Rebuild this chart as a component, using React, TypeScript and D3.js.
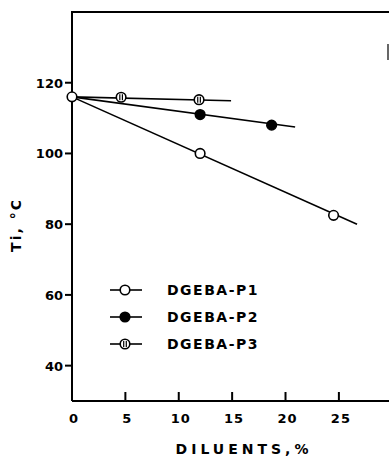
import React, { useEffect, useRef } from 'react';
import * as d3 from 'd3';

// Measured points (diluent %, Ti in °C)
const p1Points = [
  { x: 0, y: 116 },
  { x: 12, y: 100 },
  { x: 24.5, y: 82.5 },
];
const p2Points = [
  { x: 12, y: 111 },
  { x: 18.7, y: 108 },
];
const p3Points = [
  { x: 4.6, y: 115.9 },
  { x: 11.9, y: 115.2 },
];

// Fitted lines: start and end of each line
const p1Line = [
  { x: 0, y: 116 },
  { x: 26.7, y: 80 },
];
const p2Line = [
  { x: 0, y: 116 },
  { x: 20.9, y: 107.5 },
];
const p3Line = [
  { x: 0, y: 116 },
  { x: 14.9, y: 114.9 },
];

const xTicks = [0, 5, 10, 15, 20, 25];
const yTicks = [40, 60, 80, 100, 120];
const legendLabels = ['DGEBA-P1', 'DGEBA-P2', 'DGEBA-P3'];
const markerKinds = ['open', 'filled', 'split'];

const FONT = '"DejaVu Sans", Verdana, sans-serif';

const App: React.FC = () => {
  const svgRef = useRef<SVGSVGElement>(null);

  useEffect(() => {
    if (!svgRef.current) return;
    const svg = d3.select(svgRef.current);
    svg.selectAll('*').remove();

    const x = d3.scaleLinear().domain([0, 29.6]).range([72, 388]);
    const y = d3.scaleLinear().domain([30, 140]).range([401, 12]);

    // frame
    svg.append('path')
      .attr('d', `M${x(0)},${y(30)}V${y(140)}H389`)
      .attr('fill', 'none')
      .attr('stroke', '#000')
      .attr('stroke-width', 2);
    svg.append('line')
      .attr('x1', 388).attr('x2', 388)
      .attr('y1', 44).attr('y2', 60)
      .attr('stroke', '#000').attr('stroke-width', 1.2);
    svg.append('line')
      .attr('x1', x(0)).attr('x2', 389)
      .attr('y1', y(30)).attr('y2', y(30))
      .attr('stroke', '#000').attr('stroke-width', 2);

    // x ticks (inward)
    svg.selectAll('.xt')
      .data(xTicks.filter(d => d > 0))
      .enter()
      .append('line')
      .attr('x1', d => x(d)).attr('x2', d => x(d))
      .attr('y1', y(30)).attr('y2', y(30) - 9)
      .attr('stroke', '#000').attr('stroke-width', 2);
    svg.selectAll('.xl')
      .data(xTicks)
      .enter()
      .append('text')
      .attr('x', d => x(d) + 2)
      .attr('y', y(30) + 22)
      .attr('text-anchor', 'middle')
      .style('font-family', FONT)
      .style('font-weight', 'bold')
      .style('font-size', '13px')
      .style('letter-spacing', '1px')
      .text(d => d);

    // y ticks (outward)
    svg.selectAll('.yt')
      .data(yTicks)
      .enter()
      .append('line')
      .attr('x1', x(0) - 7).attr('x2', x(0))
      .attr('y1', d => y(d)).attr('y2', d => y(d))
      .attr('stroke', '#000').attr('stroke-width', 2);
    svg.selectAll('.yl')
      .data(yTicks)
      .enter()
      .append('text')
      .attr('x', x(0) - 9)
      .attr('y', d => y(d) + 5)
      .attr('text-anchor', 'end')
      .style('font-family', FONT)
      .style('font-weight', 'bold')
      .style('font-size', '13px')
      .text(d => d);

    // axis titles
    svg.append('text')
      .attr('x', 244)
      .attr('y', 454)
      .attr('text-anchor', 'middle')
      .style('font-family', FONT)
      .style('font-weight', 'bold')
      .style('font-size', '14px')
      .style('letter-spacing', '4px')
      .text('DILUENTS,%');
    svg.append('text')
      .attr('transform', 'translate(21,225) rotate(-90)')
      .attr('text-anchor', 'middle')
      .style('font-family', FONT)
      .style('font-weight', 'bold')
      .style('font-size', '14px')
      .style('letter-spacing', '2px')
      .text('Ti, °C');

    const line = d3.line<{ x: number; y: number }>()
      .x(d => x(d.x))
      .y(d => y(d.y));

    [p1Line, p2Line, p3Line].forEach(l => {
      svg.append('path')
        .datum(l)
        .attr('d', line)
        .attr('fill', 'none')
        .attr('stroke', '#000')
        .attr('stroke-width', 1.6);
    });

    const drawMarker = (cx: number, cy: number, kind: string) => {
      const g = svg.append('g');
      g.append('circle')
        .attr('cx', cx).attr('cy', cy).attr('r', 4.8)
        .attr('fill', kind === 'filled' ? '#000' : '#fff')
        .attr('stroke', '#000')
        .attr('stroke-width', 1.6);
      if (kind === 'split') {
        [-1.3, 1.3].forEach(dx => {
          g.append('line')
            .attr('x1', cx + dx).attr('x2', cx + dx)
            .attr('y1', cy - 3).attr('y2', cy + 3)
            .attr('stroke', '#000').attr('stroke-width', 1.2);
        });
      }
    };

    p3Points.forEach(p => drawMarker(x(p.x), y(p.y), 'split'));
    p2Points.forEach(p => drawMarker(x(p.x), y(p.y), 'filled'));
    p1Points.forEach(p => drawMarker(x(p.x), y(p.y), 'open'));

    // legend
    legendLabels.forEach((label, i) => {
      const ly = 290 + i * 27;
      svg.append('line')
        .attr('x1', 110).attr('x2', 142)
        .attr('y1', ly).attr('y2', ly)
        .attr('stroke', '#000').attr('stroke-width', 1.6);
      drawMarker(125, ly, markerKinds[i]);
      svg.append('text')
        .attr('x', 167)
        .attr('y', ly + 5)
        .style('font-family', FONT)
        .style('font-weight', 'bold')
        .style('font-size', '14px')
        .style('letter-spacing', '1.5px')
        .text(label);
    });
  }, []);

  return (
    <svg
      ref={svgRef}
      width={389}
      height={457}
      style={{ position: 'absolute', left: 0, top: 0, background: '#fff' }}
    />
  );
};

export default App;
